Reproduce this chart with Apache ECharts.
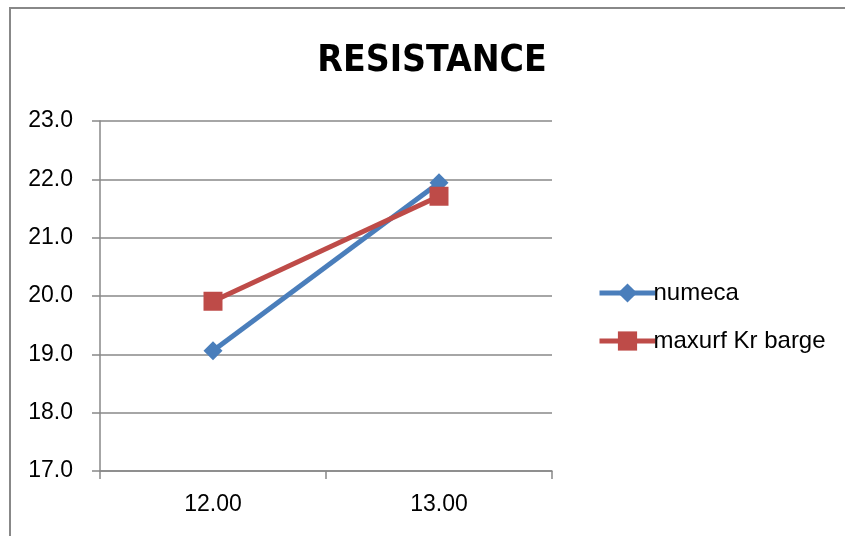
<!DOCTYPE html>
<html><head><meta charset="utf-8">
<script src="https://cdn.jsdelivr.net/npm/echarts@6/dist/echarts.min.js"></script>
<style>html,body{margin:0;padding:0;background:#fff}#c{width:845px;height:536px}</style>
</head><body><div id="c"></div>
<script>
const categories = ['12.00', '13.00'];
const numeca = [19.06, 21.94];
const maxurf = [19.91, 21.71];
const seriesNames = ['numeca', 'maxurf Kr barge'];
const titleText = 'RESISTANCE';

const chart = echarts.init(document.getElementById('c'));
const axisFont = {fontFamily: 'Liberation Sans, Arial, sans-serif', fontSize: 23, color: '#000'};
chart.setOption({
  animation: false,
  backgroundColor: '#fff',
  title: {
    text: titleText, left: 427, textAlign: 'center', top: 38,
    textStyle: {fontFamily: '"Liberation Sans Narrow", "DejaVu Sans Condensed", sans-serif', fontWeight: 'bold', fontSize: 37, color: '#000'}
  },
  graphic: [{type: 'rect', shape: {x: 10, y: 8, width: 900, height: 600}, style: {fill: 'none', stroke: '#888', lineWidth: 2}, silent: true}],
  legend: {
    orient: 'vertical', left: 592, top: 276, itemWidth: 56, itemHeight: 24, itemGap: 24,
    lineStyle: {width: 5},
    textStyle: {fontFamily: 'Liberation Sans, Arial, sans-serif', fontSize: 24, color: '#000', padding: [0,0,0,-7]},
    data: seriesNames
  },
  grid: {left: 100, right: 293, top: 121, bottom: 65},
  xAxis: {
    type: 'category', data: categories, boundaryGap: true,
    axisLine: {lineStyle: {color: '#888', width: 1.5}},
    axisTick: {show: true, length: 8, lineStyle: {color: '#888', width: 1.5}},
    axisLabel: Object.assign({margin: 22}, axisFont),
    splitLine: {show: false}
  },
  yAxis: {
    type: 'value', min: 17, max: 23, interval: 1,
    axisLine: {show: true, lineStyle: {color: '#888', width: 1.5}},
    axisTick: {show: true, length: 8, lineStyle: {color: '#888', width: 1.5}},
    axisLabel: Object.assign({margin: 27, formatter: v => v.toFixed(1)}, axisFont),
    splitLine: {lineStyle: {color: '#888', width: 1.5}}
  },
  series: [
    {name: seriesNames[0], type: 'line', data: numeca, symbol: 'diamond', symbolSize: 19,
     lineStyle: {color: '#4A7EBB', width: 5}, itemStyle: {color: '#4A7EBB'}},
    {name: seriesNames[1], type: 'line', data: maxurf, symbol: 'rect', symbolSize: 19,
     lineStyle: {color: '#BE4B48', width: 5}, itemStyle: {color: '#BE4B48'}}
  ]
});
</script></body></html>
